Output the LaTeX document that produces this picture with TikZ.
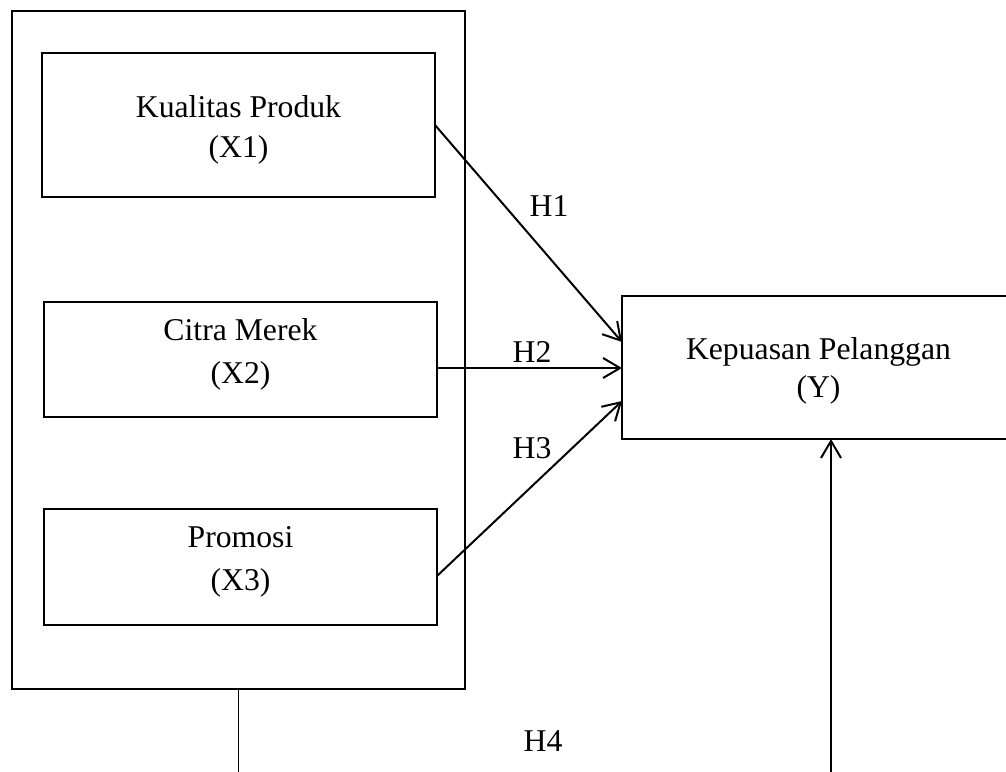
\documentclass[tikz,border=0pt]{standalone}
\usepackage{fontspec}
\setmainfont{Liberation Serif}
\usetikzlibrary{arrows.meta}
\tikzset{
  box/.style={draw, line width=1.7pt, inner sep=0pt, outer sep=0pt},
  txt/.style={align=center, inner sep=0pt, font=\fontsize{31.7}{#1}\selectfont},
  txt/.default=40,
  lbl/.style={inner sep=0pt, font=\fontsize{31.7}{38}\selectfont},
  conn/.style={line width=1.7pt},
  arr/.style={line width=2pt, -{Straight Barb[length=17pt,width=20pt,line width=2pt]}}
}
\begin{document}
\begin{tikzpicture}[x=1pt,y=-1pt]
\useasboundingbox (0,0) rectangle (1006,771);
\clip (0,0) rectangle (1006,771);
% boxes
\node[box, minimum width=453pt, minimum height=678pt] (outer) at (238.5,350) {};
\node[box, minimum width=393pt, minimum height=144pt] (x1) at (238.5,125) {};
\node[box, minimum width=393pt, minimum height=115pt] (x2) at (240.5,359.5) {};
\node[box, minimum width=393pt, minimum height=116pt] (x3) at (240.5,567) {};
\node[box, minimum width=418pt, minimum height=143pt] (ybox) at (831,367.5) {};
% texts
\node[txt=40] (t1) at (238.5,130) {Kualitas Produk\\(X1)};
\node[txt=43.6] (t2) at (240.5,354.5) {Citra Merek\\(X2)};
\node[txt=43.6] (t3) at (240.5,562) {Promosi\\(X3)};
\node[txt=38.3] (ty) at (818.5,371) {Kepuasan Pelanggan\\(Y)};
% connectors
\draw[arr] (x1.east) -- ([yshift=25.5pt]ybox.west);
\draw[arr] ([yshift=-8.5pt]x2.east) -- ([yshift=-8.5pt]x2.east -| ybox.west);
\draw[arr] ([yshift=-9pt]x3.east) -- ([yshift=-33.5pt]ybox.west);
\coordinate (b1) at (238.5,790);
\coordinate (b2) at (831,790);
\draw[conn] (outer.south) -- (b1);
\draw[arr] (b2) -- (b2 |- ybox.south);
% labels
\node[lbl] (h1) at (549,206) {H1};
\node[lbl] (h2) at (532,352) {H2};
\node[lbl] (h3) at (532,448) {H3};
\node[lbl] (h4) at (543,741) {H4};
\end{tikzpicture}
\end{document}
